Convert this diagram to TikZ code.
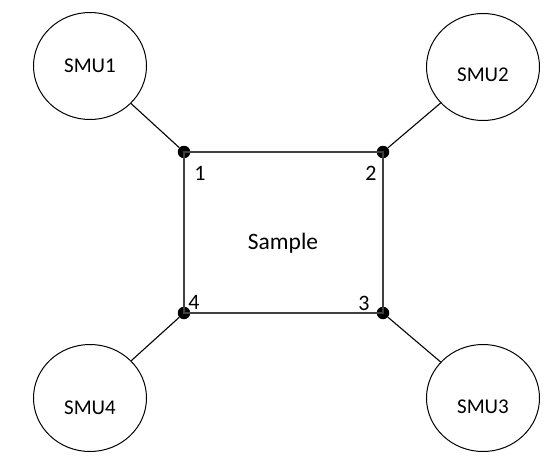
\documentclass[tikz,border=0pt]{standalone}
\usepackage{fontspec}
\setmainfont{Carlito}
\usetikzlibrary{shapes.geometric}
\begin{document}
\begin{tikzpicture}[x=1pt,y=-1pt,
  smu/.style={draw, line width=1pt, ellipse, minimum width=113pt, minimum height=107pt, inner sep=0pt},
  dot/.style={circle, fill=black, minimum size=12.5pt, inner sep=0pt},
  wire/.style={line width=1.1pt},
  lbl/.style={font=\fontsize{21}{24}\selectfont, inner sep=0pt},
  num/.style={font=\fontsize{22}{24}\selectfont, inner sep=0pt}]
\useasboundingbox (0,0) rectangle (554,460);
\node[smu, label={[lbl]center:SMU1}] (smu1) at (90,66) {};
\node[smu, label={[lbl,yshift=-8pt]center:SMU2}] (smu2) at (483,67) {};
\node[smu, label={[lbl,yshift=-10pt]center:SMU4}] (smu4) at (90,398) {};
\node[smu, label={[lbl,yshift=-9pt]center:SMU3}] (smu3) at (483,398) {};
\node[dot] (d1) at (184,152) {};
\node[dot] (d2) at (383,152) {};
\node[dot] (d3) at (383,313) {};
\node[dot] (d4) at (184,313) {};
\draw[wire, black!75] (d1.center) -- (d2.center) -- (d3.center) -- (d4.center) -- cycle;
\draw[wire] (smu1) -- (d1);
\draw[wire] (smu2) -- (d2);
\draw[wire] (smu3) -- (d3);
\draw[wire] (smu4) -- (d4);
\node[num] (n1) at (200,173) {1};
\node[num] (n2) at (371,173) {2};
\node[num] (n3) at (364,303) {3};
\node[num] (n4) at (194,302) {4};
\node[font=\fontsize{23.5}{26}\selectfont, inner sep=0pt] (sample) at (283,243) {Sample};
\end{tikzpicture}
\end{document}
